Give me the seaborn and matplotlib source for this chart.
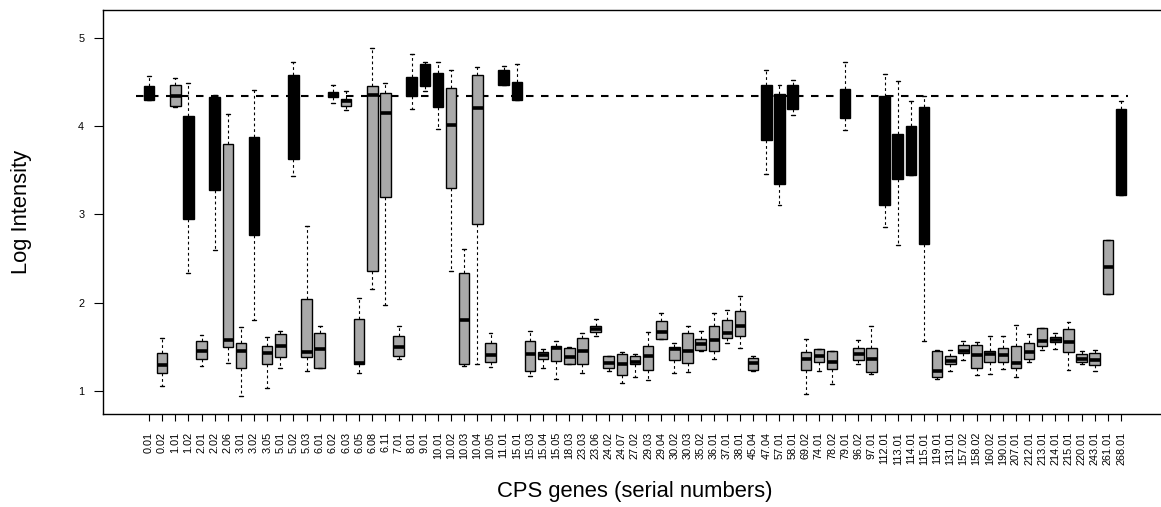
import numpy as np
import pandas as pd
import matplotlib
matplotlib.use("Agg")
import matplotlib.pyplot as plt
import seaborn as sns

# CPS gene serial numbers (one box each)
genes = ["0.01", "0.02", "1.01", "1.02", "2.01", "2.02", "2.06", "3.01", "3.02", "3.05",
         "5.01", "5.02", "5.03", "6.01", "6.02", "6.03", "6.05", "6.08", "6.11", "7.01",
         "8.01", "9.01", "10.01", "10.02", "10.03", "10.04", "10.05", "11.01", "15.01", "15.03",
         "15.04", "15.05", "18.03", "23.03", "23.06", "24.02", "24.07", "27.02", "29.03", "29.04",
         "30.02", "30.03", "35.02", "36.01", "37.01", "38.01", "45.04", "47.04", "57.01", "58.01",
         "69.02", "74.01", "78.02", "79.01", "96.02", "97.01", "112.01", "113.01", "114.01", "115.01",
         "119.01", "131.01", "157.02", "158.02", "160.02", "190.01", "207.01", "212.01", "213.01", "214.01",
         "215.01", "220.01", "243.01", "261.01", "268.01"]

# b = black box, g = grey box
group = ["b", "g", "g", "b", "g", "b", "g", "g", "b", "g",
         "g", "b", "g", "g", "b", "g", "g", "g", "g", "g",
         "b", "b", "b", "g", "g", "g", "g", "b", "b", "g",
         "g", "g", "g", "g", "g", "g", "g", "g", "g", "g",
         "g", "g", "g", "g", "g", "g", "g", "b", "b", "b",
         "g", "g", "g", "b", "g", "g", "b", "b", "b", "b",
         "g", "g", "g", "g", "g", "g", "g", "g", "g", "g",
         "g", "g", "g", "g", "b"]

# five-number summaries
lo = [4.29, 1.05, 4.22, 2.33, 1.28, 2.59, 1.32, 0.94, 1.80, 1.03,
      1.26, 3.43, 1.22, 1.26, 4.26, 4.18, 1.20, 2.15, 1.97, 1.36,
      4.19, 4.40, 3.97, 2.36, 1.28, 1.31, 1.27, 4.46, 4.29, 1.17,
      1.26, 1.14, 1.31, 1.20, 1.62, 1.23, 1.09, 1.16, 1.12, 1.59,
      1.20, 1.21, 1.45, 1.36, 1.54, 1.48, 1.22, 3.46, 3.10, 4.13,
      0.97, 1.23, 1.08, 3.95, 1.30, 1.19, 2.86, 2.65, 3.44, 1.56,
      1.14, 1.23, 1.35, 1.18, 1.19, 1.25, 1.16, 1.33, 1.46, 1.47,
      1.24, 1.30, 1.23, 2.10, 3.22]
q1 = [4.30, 1.20, 4.23, 2.95, 1.36, 3.28, 1.50, 1.26, 2.77, 1.30,
      1.38, 3.63, 1.38, 1.26, 4.33, 4.23, 1.30, 2.36, 3.20, 1.39,
      4.34, 4.45, 4.21, 3.30, 1.30, 2.89, 1.33, 4.46, 4.29, 1.23,
      1.36, 1.34, 1.31, 1.31, 1.67, 1.26, 1.18, 1.30, 1.24, 1.59,
      1.35, 1.32, 1.46, 1.45, 1.60, 1.62, 1.24, 3.84, 3.34, 4.19,
      1.24, 1.33, 1.25, 4.09, 1.35, 1.21, 3.10, 3.40, 3.44, 2.66,
      1.16, 1.31, 1.43, 1.26, 1.33, 1.33, 1.26, 1.36, 1.51, 1.55,
      1.44, 1.33, 1.29, 2.10, 3.22]
med = [4.32, 1.29, 4.34, 3.60, 1.45, 3.90, 1.58, 1.45, 3.30, 1.43,
       1.51, 4.10, 1.44, 1.47, 4.35, 4.28, 1.32, 4.35, 4.15, 1.50,
       4.42, 4.60, 4.40, 4.01, 1.80, 4.20, 1.41, 4.55, 4.35, 1.42,
       1.41, 1.49, 1.38, 1.45, 1.70, 1.32, 1.30, 1.33, 1.40, 1.67,
       1.47, 1.45, 1.53, 1.58, 1.66, 1.73, 1.32, 4.20, 4.00, 4.30,
       1.36, 1.40, 1.33, 4.25, 1.42, 1.36, 3.80, 3.65, 3.70, 3.50,
       1.23, 1.34, 1.45, 1.41, 1.42, 1.41, 1.32, 1.44, 1.57, 1.58,
       1.55, 1.36, 1.35, 2.40, 3.70]
q3 = [4.45, 1.43, 4.46, 4.11, 1.57, 4.33, 3.80, 1.54, 3.87, 1.51,
      1.64, 4.58, 2.04, 1.65, 4.39, 4.31, 1.81, 4.45, 4.37, 1.62,
      4.55, 4.70, 4.60, 4.43, 2.33, 4.58, 1.54, 4.64, 4.50, 1.57,
      1.44, 1.51, 1.49, 1.60, 1.73, 1.40, 1.42, 1.40, 1.51, 1.79,
      1.50, 1.65, 1.59, 1.74, 1.80, 1.91, 1.37, 4.46, 4.36, 4.46,
      1.44, 1.47, 1.45, 4.42, 1.48, 1.48, 4.34, 3.91, 4.00, 4.22,
      1.45, 1.39, 1.52, 1.52, 1.45, 1.48, 1.51, 1.54, 1.71, 1.61,
      1.70, 1.42, 1.43, 2.71, 4.19]
hi = [4.57, 1.60, 4.54, 4.49, 1.63, 4.35, 4.14, 1.72, 4.41, 1.61,
      1.68, 4.72, 2.87, 1.73, 4.46, 4.40, 2.05, 4.88, 4.49, 1.74,
      4.82, 4.73, 4.72, 4.64, 2.61, 4.67, 1.66, 4.68, 4.70, 1.68,
      1.47, 1.57, 1.50, 1.66, 1.81, 1.40, 1.44, 1.42, 1.67, 1.88,
      1.54, 1.74, 1.68, 1.88, 1.92, 2.08, 1.40, 4.63, 4.46, 4.52,
      1.59, 1.47, 1.45, 4.73, 1.58, 1.73, 4.59, 4.51, 4.28, 4.34,
      1.46, 1.46, 1.56, 1.55, 1.62, 1.62, 1.75, 1.64, 1.71, 1.66,
      1.78, 1.45, 1.46, 2.71, 4.28]

ref_level = 4.336

# long table: the five summary values per gene give exactly this box
rows = []
for g, k, a, b, c, d, e in zip(genes, group, lo, q1, med, q3, hi):
    for v in (a, b, c, d, e):
        rows.append({"gene": g, "group": k, "value": v})
df = pd.DataFrame(rows)

sns.set_style("ticks")
plt.rcParams["font.family"] = ["Liberation Sans", "DejaVu Sans"]
plt.rcParams["text.color"] = "black"
plt.rcParams["axes.labelcolor"] = "black"
plt.rcParams["xtick.color"] = "black"
plt.rcParams["ytick.color"] = "black"

fig = plt.figure(figsize=(11.61, 5.07), dpi=100)
ax = fig.add_axes([103 / 1161, 93 / 507, 1064 / 1161, 404 / 507])

sns.boxplot(data=df, x="gene", y="value", hue="group", order=genes,
            palette={"b": "black", "g": "#a9a9a9"}, dodge=False, width=0.8,
            whis=(0, 100), saturation=1, linecolor="black", linewidth=1,
            legend=False, capwidths=0.3,
            whiskerprops={"linestyle": (0, (2.5, 2.5)), "linewidth": 0.8},
            medianprops={"linewidth": 2.6},
            capprops={"linewidth": 1},
            ax=ax)

# reference level, drawn behind the boxes
ax.hlines(ref_level, -1, len(genes) - 0.5, colors="black",
          linestyles=(0, (3.6, 3.6)), linewidth=1.5, zorder=1)

ax.set_xlim(-3.5, 77.5)
ax.set_ylim(0.738, 5.314)
ax.set_yticks([1, 2, 3, 4, 5])

for s in ax.spines.values():
    s.set_visible(True)
    s.set_color("black")
    s.set_linewidth(1)

ax.tick_params(axis="x", length=5.3, width=0.8, pad=7.5, labelsize=7.8,
               labelrotation=90, colors="black")
ax.tick_params(axis="y", length=6.5, width=0.8, pad=7, labelsize=7.8, colors="black")

ax.set_xlabel("CPS genes (serial numbers)", fontsize=15.8, va="center", color="black")
ax.xaxis.set_label_coords(0.5, -(491.5 - 414) / 404)
ax.set_ylabel("Log Intensity", fontsize=15.8, va="center", color="black")
ax.yaxis.set_label_coords(-(103 - 21.5) / 1064, 0.5)

fig.savefig("out.png", dpi=100)
